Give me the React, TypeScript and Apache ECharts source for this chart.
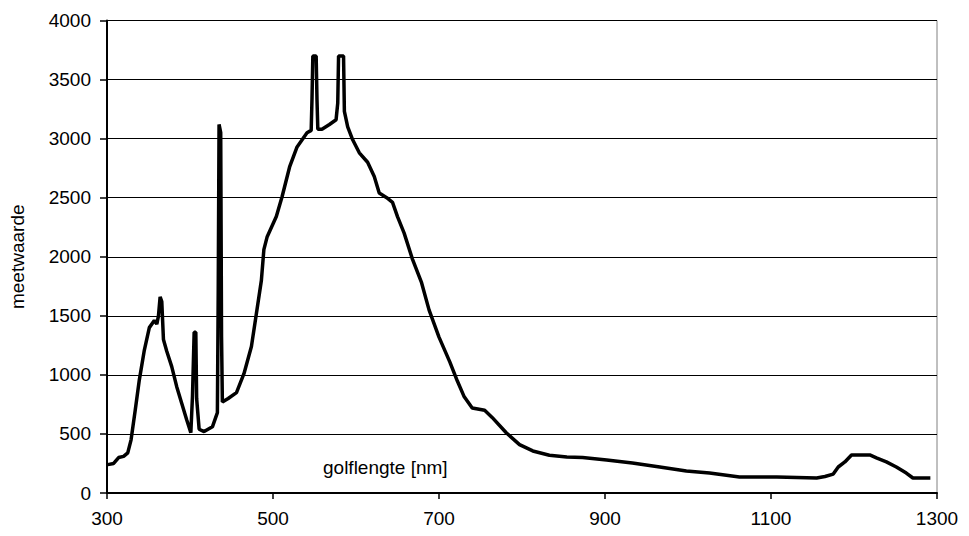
import React, { useEffect, useRef } from "react";
import * as echarts from "echarts";

const wavelengths: number[] = [
  301, 308, 314, 320, 325, 329, 334, 339, 345, 351, 357, 360, 362, 364, 366, 368,
  372, 378, 384, 390, 396, 401, 403, 405, 407, 408, 411, 417, 427, 433, 434, 435,
  437, 438, 439, 446, 456, 465, 474, 480, 486, 489, 493, 504, 511, 520, 529, 541,
  546, 547, 548, 552, 553, 554, 559, 568, 576, 578, 579, 585, 586, 590, 596, 604,
  614, 622, 628, 637, 644, 650, 658, 668, 679, 688, 700, 713, 722, 730, 740, 755,
  764, 781, 797, 813, 833, 854, 873, 902, 933, 966, 998, 1026, 1062, 1107, 1155, 1165,
  1175, 1181, 1189, 1197, 1219, 1227, 1239, 1251, 1263, 1271, 1292,
];

const measured: number[] = [
  240, 250, 300, 310, 340, 450, 700, 960, 1210, 1400, 1460, 1430, 1500, 1660, 1620, 1300,
  1200, 1070, 900, 760, 620, 510, 820, 1360, 1360, 800, 540, 520, 560, 680, 1700, 3120,
  3050, 1320, 770, 800, 850, 1010, 1240, 1520, 1800, 2060, 2170, 2340, 2510, 2760, 2930, 3050,
  3070, 3340, 3700, 3700, 3330, 3080, 3080, 3120, 3160, 3300, 3700, 3700, 3230, 3100, 2990, 2880,
  2800, 2680, 2540, 2500, 2460, 2340, 2200, 1980, 1780, 1550, 1320, 1110, 950, 820, 720, 700,
  640, 510, 410, 356, 320, 305, 300, 280, 254, 220, 186, 169, 136, 136, 127, 140,
  160, 220, 263, 322, 322, 297, 263, 220, 169, 127, 127,
];

const xTicks = { min: 300, max: 1300, interval: 200 };
const yTicks = { min: 0, max: 4000, interval: 500 };

const xLabelText = "golflengte [nm]";
const yLabelText = "meetwaarde";

export default function App() {
  const ref = useRef<HTMLDivElement>(null);
  useEffect(() => {
    if (!ref.current) return;
    const chart = echarts.init(ref.current, undefined, { renderer: "svg" });
    const font = "'Liberation Sans', Arial, sans-serif";
    chart.setOption({
      animation: false,
      backgroundColor: "#ffffff",
      textStyle: { fontFamily: font },
      grid: {
        left: 99,
        right: 24,
        top: 12.5,
        bottom: 35,
        outerBoundsMode: "none",
        containLabel: false,
        show: true,
        borderColor: "#808080",
        borderWidth: 1,
        backgroundColor: "transparent",
      },
      xAxis: {
        type: "value",
        min: xTicks.min,
        max: xTicks.max,
        interval: xTicks.interval,
        axisLine: { show: true, onZero: false, lineStyle: { color: "#000", width: 2 } },
        axisTick: { show: true, inside: false, length: 6, lineStyle: { color: "#000", width: 1.5 } },
        axisLabel: {
          color: "#000",
          fontSize: 19,
          margin: 16,
          fontFamily: font,
          formatter: (v: number) => String(v),
        },
        splitLine: { show: false },
      },
      yAxis: {
        type: "value",
        min: yTicks.min,
        max: yTicks.max,
        interval: yTicks.interval,
        name: yLabelText,
        nameLocation: "middle",
        nameGap: 80,
        nameTextStyle: { color: "#000", fontSize: 19, fontFamily: font },
        axisLine: { show: true, lineStyle: { color: "#000", width: 2 } },
        axisTick: { show: true, inside: false, length: 7, lineStyle: { color: "#000", width: 1.5 } },
        axisLabel: {
          color: "#000",
          fontSize: 19,
          margin: 16,
          fontFamily: font,
          formatter: (v: number) => String(v),
        },
        splitLine: { show: true, lineStyle: { color: "#000", width: 1 } },
      },
      graphic: [
        {
          type: "text",
          left: 315,
          top: 450,
          style: { text: xLabelText, fill: "#000", fontSize: 19, fontFamily: font },
        },
      ],
      series: [
        {
          type: "line",
          data: wavelengths.map((w, i) => [w, measured[i]]),
          showSymbol: false,
          symbol: "none",
          lineStyle: { color: "#000", width: 3.5 },
          z: 5,
        },
      ],
    });
    return () => chart.dispose();
  }, []);
  return <div ref={ref} style={{ width: 953, height: 520 }} />;
}
